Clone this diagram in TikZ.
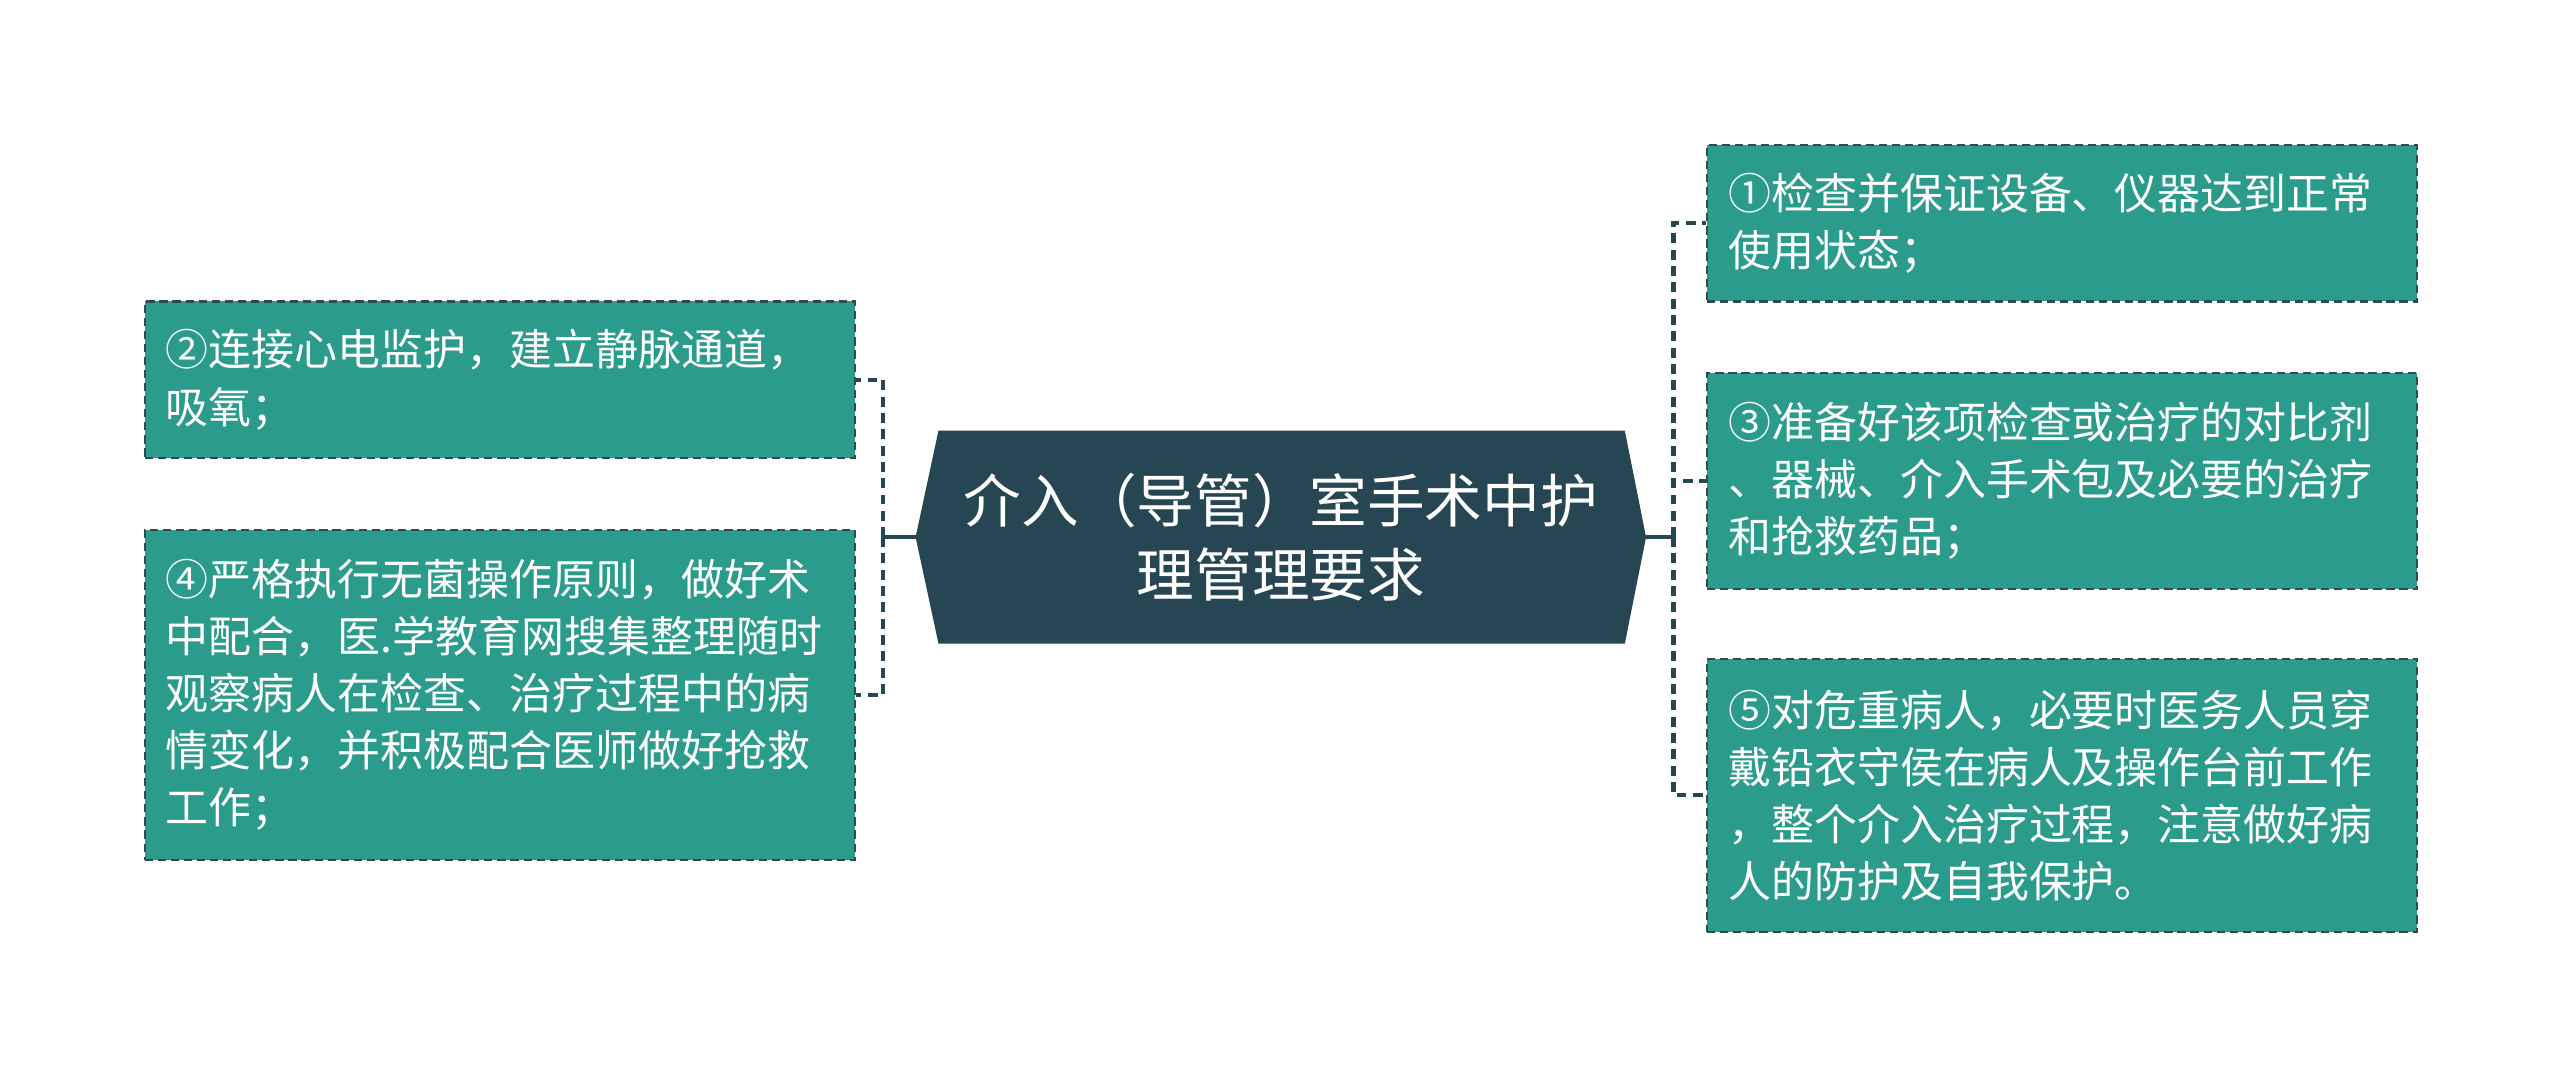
\documentclass[tikz,border=0pt]{standalone}
\usepackage{fontspec}
\newfontfamily\cjk{Noto Sans CJK SC}
\usetikzlibrary{calc}
\definecolor{darkslate}{HTML}{274653}
\definecolor{boxteal}{HTML}{2B9C8C}
\definecolor{boxline}{HTML}{2F4B52}
\begin{document}
\begin{tikzpicture}[x=1pt,y=-1pt,
  box/.style={draw=boxline, dash pattern=on 5pt off 3pt, line width=1.3pt, fill=boxteal,
    text=white, minimum width=435pt, text width=409pt, inner sep=0pt, align=left,
    font=\cjk\fontsize{26.3}{35}\selectfont, anchor=north west},
  conn/.style={draw=darkslate, line width=2.6pt},
  dconn/.style={conn, dash pattern=on 6pt off 4pt},
  centre/.style={minimum width=447pt, minimum height=130pt, inner sep=0pt, text=white,
    align=center, font=\cjk\fontsize{35.3}{45}\selectfont}]
\useasboundingbox (0,0) rectangle (1568,658);
% central node frame
\node[centre] (c) at (784.5,329) {};
\fill[darkslate] (c.west) -- ($(c.north west)+(14,0)$) -- ($(c.north east)+(-13,0)$) -- (c.east)
  -- ($(c.south east)+(-13,0)$) -- ($(c.south west)+(14,0)$) -- cycle;
\node[centre] (ct) at (c.center) {介入（导管）室手术中护\\理管理要求};
% left boxes
\node[box, minimum height=96pt] (b2) at (88,184) {②连接心电监护，建立静脉通道，\\吸氧；};
\node[box, minimum height=202pt] (b4) at (88,324) {④严格执行无菌操作原则，做好术\\中配合，医.学教育网搜集整理随时\\观察病人在检查、治疗过程中的病\\情变化，并积极配合医师做好抢救\\工作；};
% right boxes
\node[box, minimum height=96pt] (b1) at (1045,88) {①检查并保证设备、仪器达到正常\\使用状态；};
\node[box, minimum height=132pt] (b3) at (1045,228) {③准备好该项检查或治疗的对比剂\\、器械、介入手术包及必要的治疗\\和抢救药品；};
\node[box, minimum height=167pt] (b5) at (1045,403) {⑤对危重病人，必要时医务人员穿\\戴铅衣守侯在病人及操作台前工作\\，整个介入治疗过程，注意做好病\\人的防护及自我保护。};
% connectors
\coordinate (jl) at (541,329);
\coordinate (jr) at (1025,329);
\draw[conn] (c.west) -- (jl);
\draw[conn] (c.east) -- (jr);
\draw[dconn] (jl) |- (b2.east);
\draw[dconn] (jl) |- (b4.east);
\draw[dconn] (jr) |- (b1.west);
\draw[dconn] (jr) |- (b3.west);
\draw[dconn] (jr) |- (b5.west);
\end{tikzpicture}
\end{document}
